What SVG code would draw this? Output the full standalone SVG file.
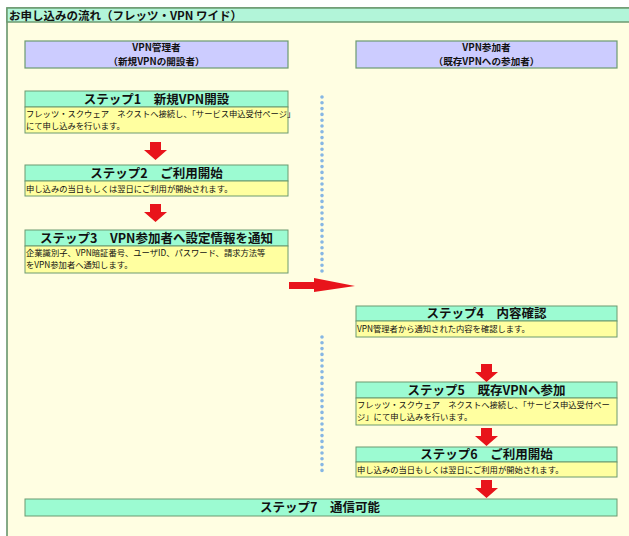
<svg xmlns="http://www.w3.org/2000/svg" width="629" height="536" viewBox="0 0 629 536">
<defs>
<style>
.frame{fill:#FFFEE2;stroke:#5E8E64;stroke-width:1.5}
.bar{fill:#B2F5D9;stroke:#6C9A70;stroke-width:1.5}
.hdr{fill:#CCCCFF;stroke:#6C9A70;stroke-width:1.2}
.ttl{fill:#9CFBD2;stroke:#6C9A70;stroke-width:1}
.dsc{fill:#FFFFA0;stroke:#6C9A70;stroke-width:1}
.t{font-family:"Noto Sans CJK JP","Noto Sans",sans-serif;fill:#111}
.bartxt{font-size:11.5px;font-weight:bold}
.hdrtxt{font-size:9.6px;font-weight:bold;text-anchor:middle}
.ttltxt{font-size:12.5px;font-weight:bold;text-anchor:middle}
.dsctxt{font-size:8.3px}
.arrow{fill:#E8141B}
.dots{stroke:#86B6E4;stroke-width:3.6;stroke-linecap:round;stroke-dasharray:0 5.8;fill:none}
</style>
</defs>
<rect x="0" y="0" width="629" height="536" fill="#FFFFFF"/>
<rect class="frame" x="7" y="8" width="640" height="540"/>
<g id="title">
<rect class="bar" x="7" y="8" width="640" height="14"/>
<text class="t bartxt" x="9" y="19.5">お申し込みの流れ（フレッツ・VPN ワイド）</text>
</g>
<g id="hdr-left">
<rect class="hdr" x="25" y="41" width="263" height="27"/>
<text class="t hdrtxt" x="156.5" y="50.8">VPN管理者</text>
<text class="t hdrtxt" x="156.5" y="64.8">（新規VPNの開設者）</text>
</g>
<g id="hdr-right">
<rect class="hdr" x="356" y="41" width="261" height="27"/>
<text class="t hdrtxt" x="486.5" y="50.8">VPN参加者</text>
<text class="t hdrtxt" x="486.5" y="64.8">（既存VPNへの参加者）</text>
</g>
<g id="step1">
<rect class="ttl" x="25" y="91" width="263" height="16"/>
<rect class="dsc" x="25" y="107" width="263" height="26"/>
<text class="t ttltxt" x="156.5" y="103.5">ステップ1　新規VPN開設</text>
<text class="t dsctxt" x="26" y="117">フレッツ・スクウェア　ネクストへ接続し、「サービス申込受付ページ」</text>
<text class="t dsctxt" x="26" y="129">にて申し込みを行います。</text>
</g>
<g id="step2">
<rect class="ttl" x="25" y="165" width="263" height="16"/>
<rect class="dsc" x="25" y="181" width="263" height="15"/>
<text class="t ttltxt" x="156.5" y="177.5">ステップ2　ご利用開始</text>
<text class="t dsctxt" x="26" y="191.5">申し込みの当日もしくは翌日にご利用が開始されます。</text>
</g>
<g id="step3">
<rect class="ttl" x="25" y="230" width="263" height="16"/>
<rect class="dsc" x="25" y="246" width="263" height="27"/>
<text class="t ttltxt" x="156.5" y="242.5">ステップ3　VPN参加者へ設定情報を通知</text>
<text class="t dsctxt" x="26" y="256">企業識別子、VPN暗証番号、ユーザID、パスワード、請求方法等</text>
<text class="t dsctxt" x="26" y="268">をVPN参加者へ通知します。</text>
</g>
<g id="step4">
<rect class="ttl" x="356" y="306" width="261" height="15"/>
<rect class="dsc" x="356" y="321" width="261" height="16"/>
<text class="t ttltxt" x="486.5" y="318">ステップ4　内容確認</text>
<text class="t dsctxt" x="357" y="331.5">VPN管理者から通知された内容を確認します。</text>
</g>
<g id="step5">
<rect class="ttl" x="356" y="382" width="261" height="16"/>
<rect class="dsc" x="356" y="398" width="261" height="27"/>
<text class="t ttltxt" x="486.5" y="394.5">ステップ5　既存VPNへ参加</text>
<text class="t dsctxt" x="357" y="408">フレッツ・スクウェア　ネクストへ接続し、「サービス申込受付ペー</text>
<text class="t dsctxt" x="357" y="420">ジ」にて申し込みを行います。</text>
</g>
<g id="step6">
<rect class="ttl" x="356" y="447" width="261" height="15"/>
<rect class="dsc" x="356" y="462" width="261" height="15"/>
<text class="t ttltxt" x="486.5" y="459">ステップ6　ご利用開始</text>
<text class="t dsctxt" x="357" y="472.5">申し込みの当日もしくは翌日にご利用が開始されます。</text>
</g>
<g id="step7">
<rect class="ttl" x="25" y="499" width="592" height="17"/>
<text class="t ttltxt" x="320" y="512">ステップ7　通信可能</text>
</g>
<g id="connectors">
<path class="dots" d="M322 97 V272"/>
<path class="dots" d="M322 337 V472"/>
<path class="arrow" d="M150 142 H161 V150 H167 L155.5 160 L144 150 H150 Z"/>
<path class="arrow" d="M150 204 H161 V212 H167 L155.5 222 L144 212 H150 Z"/>
<path class="arrow" d="M289 282 H314 V278 L355 286 L314 292 V289 H289 Z"/>
<path class="arrow" d="M481 364 H492 V372 H498 L486.5 382 L475 372 H481 Z"/>
<path class="arrow" d="M481 428 H492 V436 H498 L486.5 446 L475 436 H481 Z"/>
<path class="arrow" d="M481 480 H492 V488 H498 L486.5 498 L475 488 H481 Z"/>
</g>
</svg>
